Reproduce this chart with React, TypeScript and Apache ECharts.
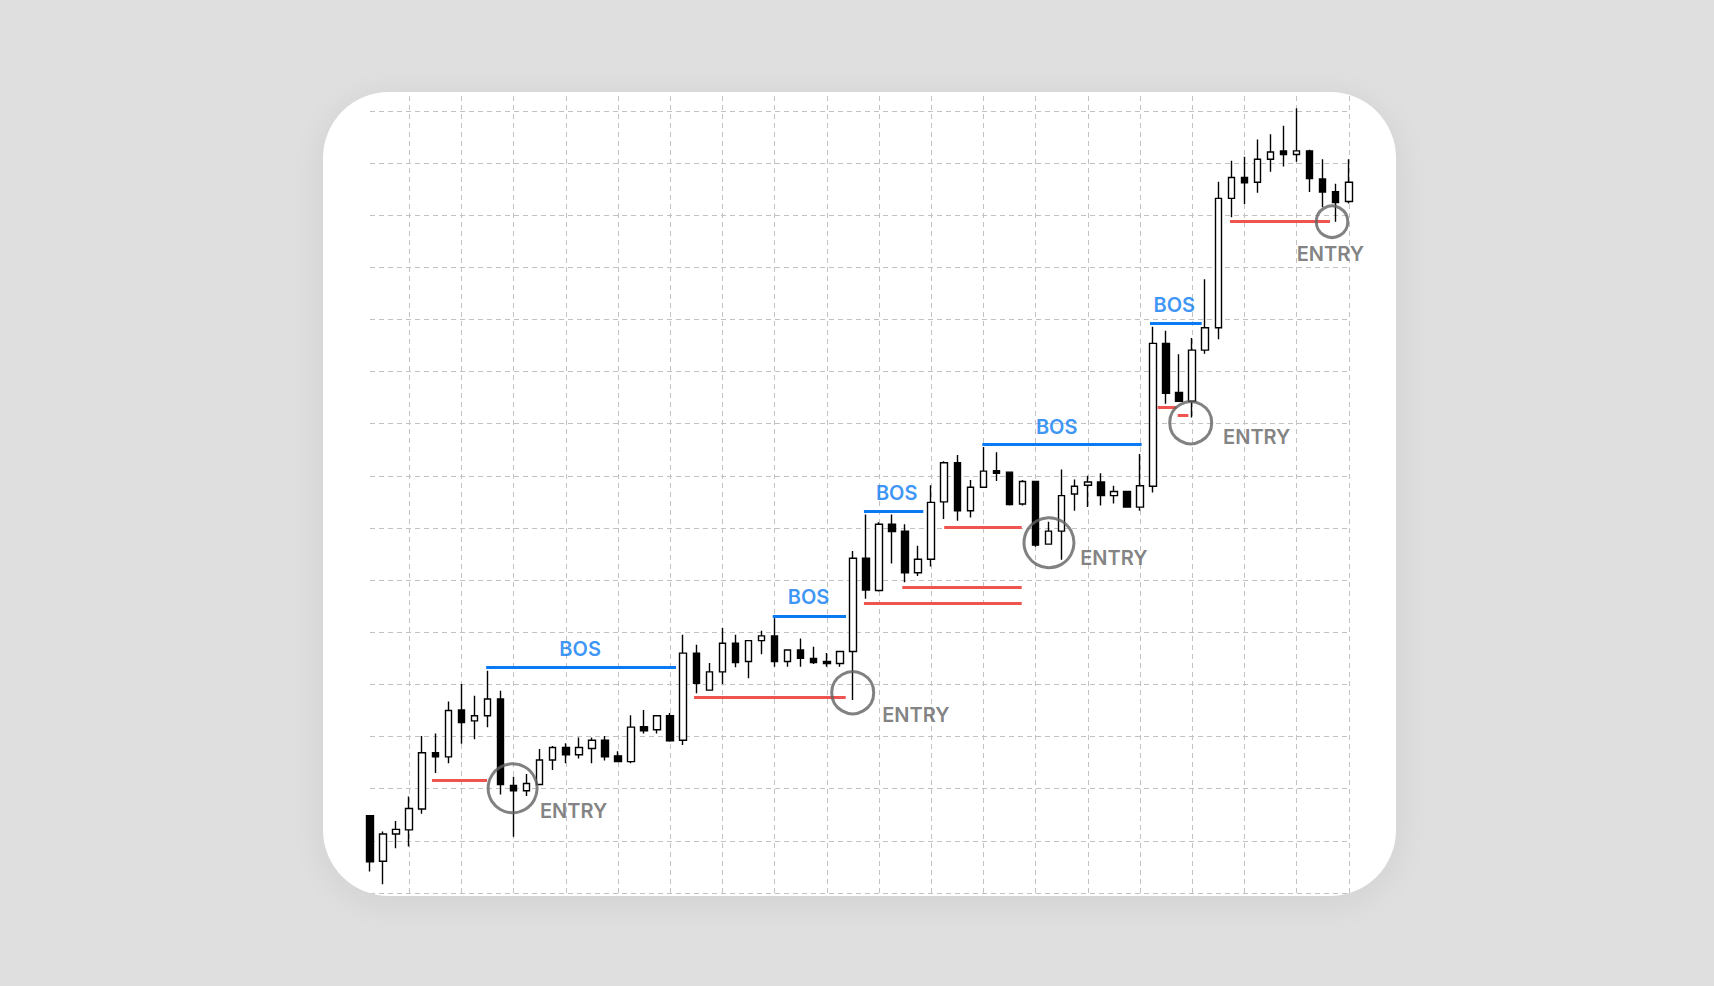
import React, { useEffect, useRef } from "react";
import * as echarts from "echarts";

const PAGE_W = 1714;
const PAGE_H = 986;
const CARD = { left: 322.5, top: 92, width: 1073.5, height: 804, radius: 66 };

// candles, one per bar index (0..75)
const opens = [
  14.8, 6.1, 11.3, 12.1, 16.1, 26.9, 26.1, 35.1, 33.0, 34.0,
  37.2, 20.6, 19.6, 20.8, 25.5, 27.9, 26.5, 27.7, 29.3, 26.3,
  25.2, 31.9, 31.3, 34.0, 29.3, 46.0, 38.9, 42.4, 47.9, 44.4,
  48.4, 49.3, 44.4, 46.6, 45.0, 44.4, 44.0, 46.3, 64.2, 58.0,
  70.7, 69.4, 61.4, 64.0, 75.0, 82.5, 73.3, 77.8, 81.0, 80.7,
  74.6, 78.9, 66.9, 69.4, 76.5, 78.2, 78.8, 76.2, 77.0, 74.0,
  78.0, 105.4, 96.0, 94.3, 104.1, 108.4, 133.2, 137.2, 136.3, 140.7,
  142.3, 141.6, 142.3, 136.9, 134.5, 132.6,
];
const closes = [
  6.0, 11.3, 12.2, 16.2, 26.9, 26.1, 35.0, 32.7, 34.0, 37.2,
  20.8, 19.6, 21.0, 25.5, 27.9, 26.5, 27.9, 29.3, 26.1, 25.2,
  31.8, 31.1, 34.0, 29.2, 46.0, 40.2, 42.4, 47.9, 44.2, 48.4,
  49.3, 44.4, 46.6, 45.0, 44.2, 44.0, 46.3, 64.2, 58.1, 70.7,
  69.3, 61.4, 64.0, 74.9, 82.5, 73.3, 77.8, 80.9, 80.5, 74.5,
  78.9, 66.7, 69.4, 76.2, 78.0, 78.8, 76.2, 77.0, 74.0, 78.1,
  105.4, 95.8, 94.3, 104.1, 108.4, 133.2, 137.2, 136.2, 140.7, 142.1,
  141.6, 142.3, 137.0, 134.4, 132.4, 136.3,
];
const lows = [
  4.1, 1.7, 8.6, 8.9, 15.2, 23.0, 24.9, 28.6, 29.5, 31.8,
  18.9, 10.8, 18.6, 20.8, 23.6, 24.9, 25.8, 24.9, 25.4, 25.2,
  24.9, 30.6, 30.6, 29.0, 28.4, 38.3, 38.9, 40.1, 43.3, 41.2,
  45.8, 43.4, 43.4, 43.4, 43.9, 43.4, 43.4, 37.0, 56.4, 57.8,
  63.2, 59.6, 60.8, 62.6, 71.7, 71.4, 72.0, 77.8, 79.0, 74.3,
  74.3, 66.4, 66.9, 63.9, 73.3, 74.0, 74.3, 74.7, 74.0, 73.3,
  76.8, 93.8, 94.3, 91.2, 103.4, 106.2, 129.6, 132.1, 134.3, 138.3,
  139.3, 140.2, 134.4, 131.5, 128.7, 132.2,
];
const highs = [
  14.9, 11.8, 13.8, 18.5, 30.1, 30.6, 36.7, 40.1, 37.8, 42.6,
  38.8, 22.3, 22.8, 27.6, 28.2, 28.7, 29.8, 29.8, 30.1, 27.2,
  34.1, 35.1, 34.0, 34.5, 49.5, 47.6, 44.1, 50.8, 49.5, 48.4,
  50.3, 52.7, 46.6, 48.8, 47.2, 46.0, 46.3, 65.6, 72.6, 71.1,
  72.6, 70.7, 66.6, 78.2, 82.8, 84.0, 79.2, 85.5, 84.5, 80.8,
  79.2, 78.9, 71.2, 81.2, 79.3, 80.0, 80.5, 78.1, 77.0, 84.2,
  108.6, 107.8, 103.3, 106.4, 117.7, 136.4, 140.4, 141.2, 144.5, 145.5,
  147.1, 150.5, 142.5, 140.7, 136.0, 140.7,
];

// break of structure lines: [fromBar, toBar, price]
const bosLines = [
  [8.9, 23.45, 43.2],
  [30.86, 36.48, 53.12],
  [37.85, 42.4, 73.12],
  [46.92, 59.13, 86.1],
  [59.77, 63.73, 109.24],
];
// label centres: [bar, price]
const bosLabels = [
  [16.1, 46.75],
  [33.6, 56.85],
  [40.36, 76.7],
  [52.62, 89.35],
  [61.63, 112.8],
];

// red levels: [fromBar, toBar, price]
const levelLines = [
  [4.75, 8.97, 21.67],
  [24.83, 36.45, 37.53],
  [44.0, 49.94, 70.12],
  [40.79, 49.94, 58.54],
  [37.85, 49.94, 55.55],
  [60.36, 61.82, 93.06],
  [61.89, 62.71, 91.53],
  [65.9, 73.56, 128.72],
];

// entry circles: [bar, price, diameter]
const entryCircles = [
  [10.93, 20.08, 49],
  [36.99, 38.41, 42],
  [52.03, 67.17, 50],
  [62.89, 90.18, 42],
  [73.72, 128.72, 31.5],
];
const entryLabels = [
  [15.6, 15.8],
  [41.83, 34.13],
  [57.0, 64.18],
  [67.95, 87.5],
  [73.59, 122.5],
];

const BLUE = "#0a7af3";
const RED = "#f05450";
const GREY = "#626262";
const FONT = "Inter, 'Noto Sans', sans-serif";

const gridLine = { color: "#c2c2c2", width: 1, type: [5, 4] as number[] };
const hidden = {
  axisLine: { show: false },
  axisTick: { show: false },
  axisLabel: { show: false },
};

const candles = opens.map((o, i) => [i, o, closes[i], lows[i], highs[i]]);

const segment = (s: number[], color: string, width: number) => [
  { coord: [s[0], s[2]], lineStyle: { color, width, type: "solid" } },
  { coord: [s[1], s[2]] },
];

const App: React.FC = () => {
  const chartRef = useRef<HTMLDivElement>(null);

  useEffect(() => {
    const chart = echarts.init(chartRef.current!, null, { renderer: "svg" });

    const option: any = {
      animation: false,
      grid: [
        { left: 370, top: 110.75, width: 978.75, height: 782.25 },
        { left: 409.15, top: 96, width: 939.6, height: 797 },
      ],
      xAxis: [
        { gridIndex: 0, type: "value", min: 0, max: 75, ...hidden, splitLine: { show: false } },
        {
          gridIndex: 1, type: "value", min: 0, max: 72, interval: 4, ...hidden,
          splitLine: { show: true, lineStyle: gridLine },
        },
      ],
      yAxis: [
        {
          gridIndex: 0, type: "value", min: 0, max: 150, interval: 10, ...hidden,
          splitLine: { show: true, lineStyle: gridLine },
        },
        { gridIndex: 1, type: "value", min: 0, max: 1, ...hidden, splitLine: { show: false } },
      ],
      series: [
        {
          type: "candlestick",
          xAxisIndex: 0,
          yAxisIndex: 0,
          data: candles,
          barWidth: 7,
          clip: false,
          itemStyle: {
            color: "#ffffff",
            color0: "#000000",
            borderColor: "#000000",
            borderColor0: "#000000",
            borderWidth: 1.4,
          },
          markLine: {
            silent: true,
            symbol: ["none", "none"],
            label: { show: false },
            data: [
              ...levelLines.map((s) => segment(s, RED, 3)),
              ...bosLines.map((s) => segment(s, BLUE, 3.2)),
            ],
          },
        },
        {
          type: "scatter",
          xAxisIndex: 0,
          yAxisIndex: 0,
          z: 5,
          data: entryCircles.map((c) => ({ value: [c[0], c[1]], symbolSize: c[2] })),
          itemStyle: { color: "rgba(0,0,0,0)", borderColor: GREY, borderWidth: 3 },
        },
        {
          type: "scatter",
          xAxisIndex: 0,
          yAxisIndex: 0,
          z: 6,
          symbolSize: 1,
          itemStyle: { color: "rgba(0,0,0,0)" },
          data: bosLabels,
          label: {
            show: true,
            position: "inside",
            formatter: "BOS",
            color: BLUE,
            fontSize: 20,
            fontWeight: 600,
            fontFamily: FONT,
          },
        },
        {
          type: "scatter",
          xAxisIndex: 0,
          yAxisIndex: 0,
          z: 6,
          symbolSize: 1,
          itemStyle: { color: "rgba(0,0,0,0)" },
          data: entryLabels,
          label: {
            show: true,
            position: "inside",
            formatter: "ENTRY",
            color: GREY,
            fontSize: 20,
            fontWeight: 600,
            fontFamily: FONT,
          },
        },
      ],
    };

    chart.setOption(option);

    return () => {
      chart.dispose();
    };
  }, []);

  return (
    <div
      style={{
        position: "fixed", left: 0, top: 0, width: PAGE_W, height: PAGE_H,
        background: "#dfdfdf", overflow: "hidden",
      }}
    >
      <div
        style={{
          position: "absolute", left: CARD.left, top: CARD.top,
          width: CARD.width, height: CARD.height, borderRadius: CARD.radius,
          background: "#ffffff", overflow: "hidden",
          boxShadow: "0 6px 36px rgba(0,0,0,0.07)",
        }}
      >
        <div
          ref={chartRef}
          style={{ position: "absolute", left: -CARD.left, top: -CARD.top, width: PAGE_W, height: PAGE_H }}
        />
      </div>
    </div>
  );
};

export default App;
